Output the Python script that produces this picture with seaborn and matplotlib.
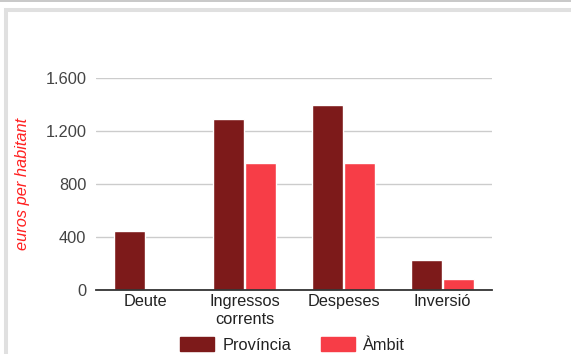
import pandas as pd
import numpy as np
import matplotlib.pyplot as plt
import seaborn as sns
from matplotlib.patches import Rectangle
from matplotlib.lines import Line2D

# dades (euros per habitant)
categories = ['Deute', 'Ingressos\ncorrents', 'Despeses', 'Inversió']
provincia = [445, 1292, 1396, 225]
ambit = [np.nan, 955, 955, 85]
series_names = ['Província', 'Àmbit']
colors = ['#7D1A1A', '#F73D47']

df = pd.DataFrame({
    'categoria': categories * 2,
    'valor': provincia + ambit,
    'serie': [series_names[0]] * 4 + [series_names[1]] * 4,
})

sns.set_style('white')
plt.rcParams['font.family'] = ['Liberation Sans', 'DejaVu Sans']
fs = 11.8

W, H = 571, 354
fig = plt.figure(figsize=(W / 100, H / 100), dpi=100)
ax = fig.add_axes([96 / W, 1 - 290 / H, 396 / W, 212 / H])

sns.barplot(data=df, x='categoria', y='valor', hue='serie', palette=colors,
            width=0.65, gap=0.03, ax=ax, legend=False, errorbar=None,
            saturation=1)

ax.set_ylim(0, 1600)
ax.set_xlim(-0.5, 3.5)
ax.set_yticks([0, 400, 800, 1200, 1600])
ax.set_yticklabels(['0', '400', '800', '1.200', '1.600'])
ax.yaxis.grid(True, color='#cccccc', linewidth=1)
ax.set_axisbelow(True)
for s in ['top', 'right', 'left']:
    ax.spines[s].set_visible(False)
ax.spines['bottom'].set_color('#333333')
ax.spines['bottom'].set_linewidth(1.3)
ax.tick_params(axis='both', length=0, labelsize=fs, colors='#222222')
ax.tick_params(axis='y', pad=7, labelcolor='#444444')
ax.tick_params(axis='x', pad=3)
ax.set_xlabel('')
ax.set_ylabel('euros per habitant', color='#FF2020', fontstyle='italic', fontsize=fs)
ax.yaxis.set_label_coords(-0.167, 0.5)

# llegenda a sota
handles = [Rectangle((0, 0), 1, 1, color=c) for c in colors]
fig.legend(handles, series_names, loc='center', bbox_to_anchor=(0.512, 1 - 345 / H),
           ncol=2, frameon=False, fontsize=fs, handlelength=2.1, handleheight=0.95,
           handletextpad=0.48, columnspacing=1.8, labelcolor='#222222')

# marc de la pàgina
fig.add_artist(Line2D([0, 1], [1 - 0.8 / H, 1 - 0.8 / H], transform=fig.transFigure,
                      color='#c4c4c4', linewidth=1.3))
fig.add_artist(Rectangle((6.3 / W, -0.1), 1.2, 1.1 - 10.5 / H, transform=fig.transFigure,
                         fill=False, edgecolor='#e0e0e0', linewidth=2.9))

fig.savefig('out.png', dpi=100)
